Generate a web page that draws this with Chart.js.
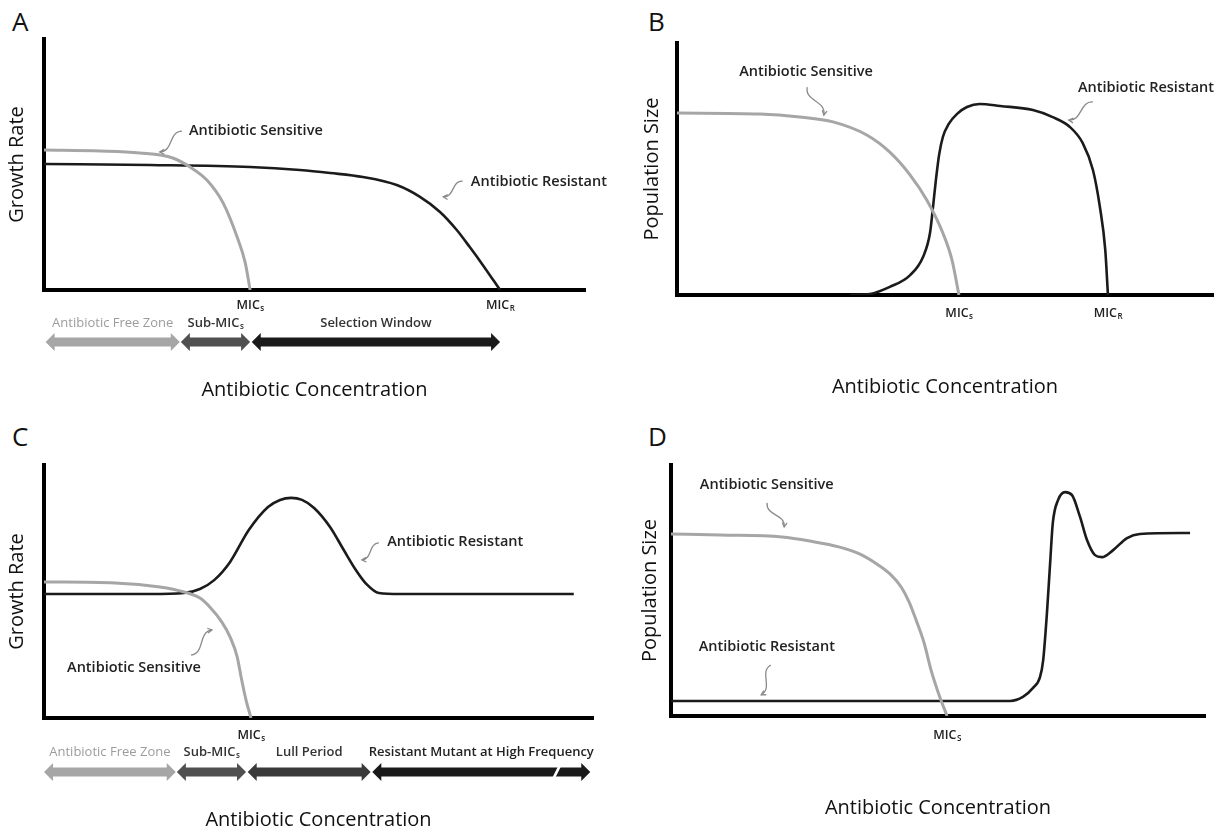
<!DOCTYPE html>
<html><head><meta charset="utf-8">
<script src="https://cdn.jsdelivr.net/npm/chart.js@4.4.1/dist/chart.umd.min.js"></script>
<style>
html,body{margin:0;padding:0;background:#fff;}
body{width:1223px;height:832px;position:relative;overflow:hidden;font-family:"Open Sans",sans-serif;}
.panel{position:absolute;}
.panel canvas{display:block;}
.letter{position:absolute;font:26px "Open Sans",sans-serif;color:#111;line-height:1;}
</style></head><body>
<div class="letter" style="left:12px;top:8px">A</div>
<div class="letter" style="left:648px;top:8px">B</div>
<div class="letter" style="left:12px;top:423px">C</div>
<div class="letter" style="left:648px;top:423px">D</div>
<div class="panel" style="left:0;top:0"><canvas id="cA" width="611" height="400"></canvas></div>
<div class="panel" style="left:611px;top:0"><canvas id="cB" width="612" height="397"></canvas></div>
<div class="panel" style="left:0;top:420px"><canvas id="cC" width="611" height="410"></canvas></div>
<div class="panel" style="left:611px;top:420px"><canvas id="cD" width="612" height="398"></canvas></div>
<script>
// ---- Panel A: growth rate vs concentration ----
const aSensX = [0, 10.35, 17.7, 23.8, 27.0, 30.1, 33.1, 35.7, 37.2, 38.1];
const aSensY = [55.8, 55.4, 54.6, 52.6, 49.0, 43.8, 34.7, 21.1, 10.8, 0];
const aResX  = [0, 19.6, 38.1, 47.3, 52.9, 58.96, 65.2, 69.5, 73.2, 76.3, 78.7, 81.1, 84.3];
const aResY  = [50.2, 49.8, 49.0, 47.8, 46.6, 45.0, 41.8, 37.1, 31.1, 23.9, 17.1, 10.0, 0];
const aMicValues = [38.1, 84.3];
const aMicSubs   = ['s', 'R'];
const aZoneLabels = ['Antibiotic Free Zone', 'Sub-MIC|s', 'Selection Window'];
const aZoneStart  = [0.3, 25.3, 38.4];
const aZoneEnd    = [25.1, 38.1, 84.3];

// ---- Panel B: population size vs concentration ----
const bSensX = [0, 15.5, 22.9, 29.1, 35.4, 39.7, 43.5, 46.6, 49.6, 51.3, 52.6];
const bSensY = [72.2, 71.8, 70.6, 68.7, 63.5, 56.7, 47.6, 37.7, 24.6, 13.9, 0];
const bResX  = [32.3, 36.0, 39.7, 43.5, 45.9, 47.2, 47.8, 48.3, 48.9, 49.6, 50.7, 52.2, 54.1, 56.5, 60.3, 66.4, 70.1, 73.3, 75.7, 77.6, 78.9, 79.9, 80.4];
const bResY  = [0, 0.4, 3.2, 7.9, 15.1, 24.6, 35.7, 45.6, 55.6, 62.7, 67.9, 71.8, 74.6, 75.8, 75.0, 73.4, 70.6, 66.7, 60.3, 49.6, 34.9, 17.9, 0];
const bMicValues = [52.6, 80.4];
const bMicSubs   = ['s', 'R'];

// ---- Panel C: growth rate (hormesis) ----
const cSensX = [0, 12.9, 21.1, 25.5, 28.4, 30.2, 32.4, 33.9, 35.2, 35.9, 36.8, 37.7];
const cSensY = [53.8, 53.4, 51.8, 49.8, 47.4, 43.9, 37.9, 32.0, 24.1, 16.2, 7.1, 0];
const cResX  = [0, 19.3, 25.5, 28.4, 31.0, 33.9, 37.3, 40.8, 43.0, 45.0, 47.0, 49.2, 52.1, 54.6, 56.8, 58.7, 61.0, 64.8, 96.5];
const cResY  = [49.0, 49.0, 49.4, 51.0, 54.5, 61.7, 74.3, 83.4, 86.2, 87.0, 86.2, 83.0, 75.5, 66.4, 58.5, 53.0, 49.4, 49.0, 49.0];
const cMicValues = [37.7];
const cMicSubs   = ['s'];
const cZoneLabels = ['Antibiotic Free Zone', 'Sub-MIC|s', 'Lull Period', 'Resistant Mutant at High Frequency'];
const cZoneStart  = [0, 24.2, 37.1, 59.8];
const cZoneEnd    = [24.0, 36.8, 59.5, 99.5];

// ---- Panel D: population size (hormesis) ----
const dSensX = [0, 9.2, 20.8, 26.0, 31.6, 35.4, 38.8, 41.0, 43.1, 44.6, 45.9, 47.4, 48.7, 50.2, 51.7];
const dSensY = [72.5, 72.1, 71.3, 69.7, 67.3, 64.5, 60.2, 56.6, 51.4, 45.4, 38.2, 29.1, 18.3, 8.4, 0];
const dResX  = [0, 63.5, 65.9, 67.8, 69.1, 69.7, 70.4, 71.0, 71.5, 72.5, 73.8, 75.1, 76.6, 77.9, 79.4, 80.7, 82.8, 85.4, 87.8, 97.2];
const dResY  = [6.0, 6.0, 7.6, 11.2, 15.5, 22.3, 41.0, 61.0, 76.9, 86.1, 89.2, 88.0, 79.3, 70.1, 64.1, 63.3, 66.1, 70.9, 72.5, 72.9];
const dMicValues = [51.7];
const dMicSubs   = ['S'];

const FONT = '"Open Sans", sans-serif';
const zip = (xs, ys) => xs.map((x, i) => ({x, y: ys[i]}));

function drawSub(ctx, main, sub, x, y, size, weight, color, align) {
  const mainFont = `${weight} ${size}px ${FONT}`;
  const subFont = `${weight} ${Math.round(size * 0.62)}px ${FONT}`;
  ctx.font = mainFont; const w1 = ctx.measureText(main).width;
  ctx.font = subFont; const w2 = sub ? ctx.measureText(sub).width : 0;
  const left = align === 'center' ? x - (w1 + w2) / 2 : x;
  ctx.fillStyle = color; ctx.textAlign = 'left'; ctx.textBaseline = 'middle';
  ctx.font = mainFont; ctx.fillText(main, left, y);
  if (sub) { ctx.font = subFont; ctx.fillText(sub, left + w1 + 0.5, y + size * 0.32); }
}

function dblArrow(ctx, x0, x1, yc, color) {
  const shaft = 9, head = 18, hl = 9;
  ctx.beginPath();
  ctx.moveTo(x0, yc);
  ctx.lineTo(x0 + hl, yc - head / 2);
  ctx.lineTo(x0 + hl, yc - shaft / 2);
  ctx.lineTo(x1 - hl, yc - shaft / 2);
  ctx.lineTo(x1 - hl, yc - head / 2);
  ctx.lineTo(x1, yc);
  ctx.lineTo(x1 - hl, yc + head / 2);
  ctx.lineTo(x1 - hl, yc + shaft / 2);
  ctx.lineTo(x0 + hl, yc + shaft / 2);
  ctx.lineTo(x0 + hl, yc + head / 2);
  ctx.closePath();
  ctx.fillStyle = color; ctx.fill();
}

function curlyArrow(ctx, sx, sy, ex, ey) {
  const dx = ex - sx, dy = ey - sy;
  const nx = -dy * 0.3, ny = dx * 0.3;
  const c1x = sx + dx * 0.33 + nx, c1y = sy + dy * 0.33 + ny;
  const c2x = sx + dx * 0.66 - nx, c2y = sy + dy * 0.66 - ny;
  ctx.strokeStyle = '#8a8a8a'; ctx.lineWidth = 1.3;
  ctx.beginPath(); ctx.moveTo(sx, sy); ctx.bezierCurveTo(c1x, c1y, c2x, c2y, ex, ey); ctx.stroke();
  const ang = Math.atan2(ey - c2y, ex - c2x);
  ctx.beginPath();
  ctx.moveTo(ex - 5 * Math.cos(ang - 0.5), ey - 5 * Math.sin(ang - 0.5));
  ctx.lineTo(ex, ey);
  ctx.lineTo(ex - 5 * Math.cos(ang + 0.5), ey - 5 * Math.sin(ang + 0.5));
  ctx.stroke();
}

function extrasPlugin(cfg) {
  return {
    id: 'extras',
    afterDatasetsDraw(chart) {
      const {ctx, chartArea} = chart;
      const xs = chart.scales.x, ys = chart.scales.y;
      ctx.save();
      cfg.mics.forEach((v, i) => {
        drawSub(ctx, 'MIC', cfg.micSubs[i], xs.getPixelForValue(v), chartArea.bottom + cfg.micDy, 12.5, 600, '#222', 'center');
      });
      if (cfg.zones) {
        const z = cfg.zones;
        z.labels.forEach((lab, i) => {
          const x0 = xs.getPixelForValue(z.starts[i]), x1 = xs.getPixelForValue(z.ends[i]);
          dblArrow(ctx, x0, x1, chartArea.bottom + z.arrowDy, z.colors[i]);
          const parts = lab.split('|');
          drawSub(ctx, parts[0], parts[1] || '', (x0 + x1) / 2, chartArea.bottom + z.labelDy, 13,
                  i === 0 ? 400 : 600, z.textColors[i], 'center');
        });
        if (z.breakAt != null) {
          const bx = xs.getPixelForValue(z.breakAt), yc = chartArea.bottom + z.arrowDy;
          ctx.fillStyle = '#fff';
          ctx.beginPath();
          ctx.moveTo(bx + 2, yc - 6); ctx.lineTo(bx + 5, yc - 6);
          ctx.lineTo(bx - 1, yc + 6); ctx.lineTo(bx - 4, yc + 6);
          ctx.closePath(); ctx.fill();
        }
      }
      cfg.notes.forEach(n => {
        ctx.font = `600 14.5px ${FONT}`; ctx.fillStyle = '#222';
        ctx.textAlign = 'left'; ctx.textBaseline = 'middle';
        ctx.fillText(n.text, xs.getPixelForValue(n.x), ys.getPixelForValue(n.y));
        curlyArrow(ctx, xs.getPixelForValue(n.a[0]), ys.getPixelForValue(n.a[1]),
                   xs.getPixelForValue(n.a[2]), ys.getPixelForValue(n.a[3]));
      });
      ctx.restore();
    }
  };
}

function makeChart(id, sens, res, yTitle, lay, extras) {
  const titleFont = {family: FONT, size: 20, lineHeight: 1};
  const common = {pointRadius: 0, cubicInterpolationMode: 'monotone', fill: false};
  return new Chart(document.getElementById(id), {
    type: 'line',
    data: {datasets: [
      Object.assign({label: 'Antibiotic Sensitive', data: sens, borderColor: '#a6a6a6', borderWidth: 3}, common),
      Object.assign({label: 'Antibiotic Resistant', data: res, borderColor: '#1b1b1b', borderWidth: 2.6}, common)
    ]},
    options: {
      responsive: false, animation: false, events: [],
      layout: {padding: {left: lay.L, top: lay.T, right: lay.R, bottom: 0}},
      plugins: {legend: {display: false}, tooltip: {enabled: false}},
      scales: {
        x: {type: 'linear', min: 0, max: 100,
            grid: {display: false, drawTicks: false}, ticks: {display: false},
            border: {display: true, color: '#000', width: 4},
            title: {display: true, text: 'Antibiotic Concentration', font: titleFont, color: '#111',
                    padding: {top: lay.xt, bottom: 0}}},
        y: {type: 'linear', min: 0, max: 100,
            grid: {display: false, drawTicks: false}, ticks: {display: false},
            border: {display: true, color: '#000', width: 4},
            title: {display: true, text: yTitle, font: titleFont, color: '#111',
                    padding: {top: lay.yt, bottom: lay.yb}}}
      }
    },
    plugins: [extrasPlugin(extras)]
  });
}

makeChart('cA', zip(aSensX, aSensY), zip(aResX, aResY), 'Growth Rate',
  {L: 0, T: 39, R: 26, xt: 90, yt: 7, yb: 17},
  {mics: aMicValues, micSubs: aMicSubs, micDy: 15,
   zones: {labels: aZoneLabels, starts: aZoneStart, ends: aZoneEnd,
           colors: ['#a6a6a6', '#505050', '#1a1a1a'], textColors: ['#9c9c9c', '#333', '#333'], labelDy: 33, arrowDy: 52},
   notes: [
     {text: 'Antibiotic Sensitive', x: 26.8, y: 63.3, a: [25.5, 63.3, 21.4, 55.0]},
     {text: 'Antibiotic Resistant', x: 78.9, y: 43.0, a: [77.4, 43.4, 73.8, 37.1]}
   ]});

makeChart('cB', zip(bSensX, bSensY), zip(bResX, bResY), 'Population Size',
  {L: 20, T: 43, R: 10, xt: 82, yt: 11, yb: 15},
  {mics: bMicValues, micSubs: bMicSubs, micDy: 18,
   notes: [
     {text: 'Antibiotic Sensitive', x: 11.6, y: 88.5, a: [24.3, 82.5, 27.4, 71.4]},
     {text: 'Antibiotic Resistant', x: 74.8, y: 82.1, a: [77.6, 76.6, 73.1, 69.4]}
   ]});

makeChart('cC', zip(cSensX, cSensY), zip(cResX, cResY), 'Growth Rate',
  {L: 0, T: 45, R: 18, xt: 92, yt: 7, yb: 17},
  {mics: cMicValues, micSubs: cMicSubs, micDy: 17,
   zones: {labels: cZoneLabels, starts: cZoneStart, ends: cZoneEnd,
           colors: ['#a6a6a6', '#505050', '#3a3a3a', '#1a1a1a'],
           textColors: ['#9c9c9c', '#333', '#333', '#222'], labelDy: 34, arrowDy: 54, breakAt: 93.3},
   notes: [
     {text: 'Antibiotic Resistant', x: 62.5, y: 69.6, a: [61.0, 69.2, 57.9, 62.5]},
     {text: 'Antibiotic Sensitive', x: 4.2, y: 19.8, a: [26.8, 24.9, 30.6, 34.8]}
   ]});

makeChart('cD', zip(dSensX, dSensY), zip(dResX, dResY), 'Population Size',
  {L: 18, T: 45, R: 18, xt: 82, yt: 11, yb: 11},
  {mics: dMicValues, micSubs: dMicSubs, micDy: 19,
   notes: [
     {text: 'Antibiotic Sensitive', x: 5.4, y: 92.0, a: [18.0, 84.9, 21.2, 75.3]},
     {text: 'Antibiotic Resistant', x: 5.2, y: 27.5, a: [18.7, 20.3, 16.9, 8.4]}
   ]});
</script>
</body></html>
